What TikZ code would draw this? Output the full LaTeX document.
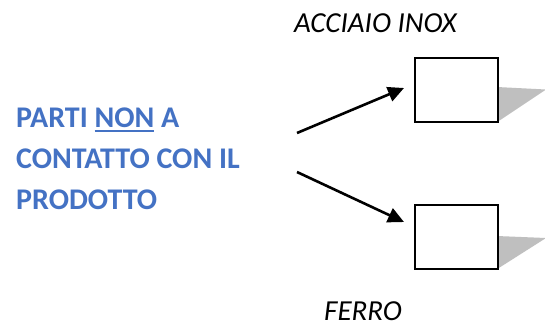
\documentclass[tikz,border=0pt]{standalone}
\usepackage{fontspec}
\setmainfont{Carlito}
\usetikzlibrary{arrows.meta}
\definecolor{txtblue}{HTML}{4472C4}
\newcommand\myul[1]{\setbox0\hbox{#1}\rlap{\rule[-5.4pt]{\wd0}{2pt}}\box0\relax}
\begin{document}
\begin{tikzpicture}[x=1pt,y=-1pt,
  lbl/.style={inner sep=0pt,anchor=base west,font=\fontsize{29}{31}\selectfont\itshape},
  blue/.style={inner sep=0pt,anchor=base west,text=txtblue,font=\fontsize{30}{32}\selectfont\bfseries},
  boxshape/.style={draw=black,line width=2pt,fill=white,minimum width=83pt,minimum height=64pt,inner sep=0pt},
  shade/.style={fill=black!25,draw=none},
  arr/.style={line width=2.6pt,-{Triangle[length=16pt,width=15pt]}}]
\useasboundingbox (0,0) rectangle (545,325);
\fill[white] (0,0) rectangle (545,325);
% shadows
\fill[shade] (497,87) -- (546,89.5) -- (498,121.5) -- cycle;
\fill[shade] (497,236) -- (546,238) -- (498,268.5) -- cycle;
% boxes
\node[boxshape] (b1) at (456.5,89.5) {};
\node[boxshape] (b2) at (456.5,237) {};
% labels
\node[lbl] (inox) at (294,32) {ACCIAIO INOX};
\node[lbl] (ferro) at (324,320) {FERRO};
\node[blue] (t1) at (16,127) {PARTI \myul{NON} A};
\node[blue] (t2) at (16,168) {CONTATTO CON IL};
\node[blue] (t3) at (16,209) {PRODOTTO};
% arrows
\coordinate (a1s) at (297,133);
\coordinate (a1e) at (404,88);
\coordinate (a2s) at (297,172);
\coordinate (a2e) at (404,222);
\draw[arr] (a1s) -- (a1e);
\draw[arr] (a2s) -- (a2e);
\end{tikzpicture}
\end{document}
